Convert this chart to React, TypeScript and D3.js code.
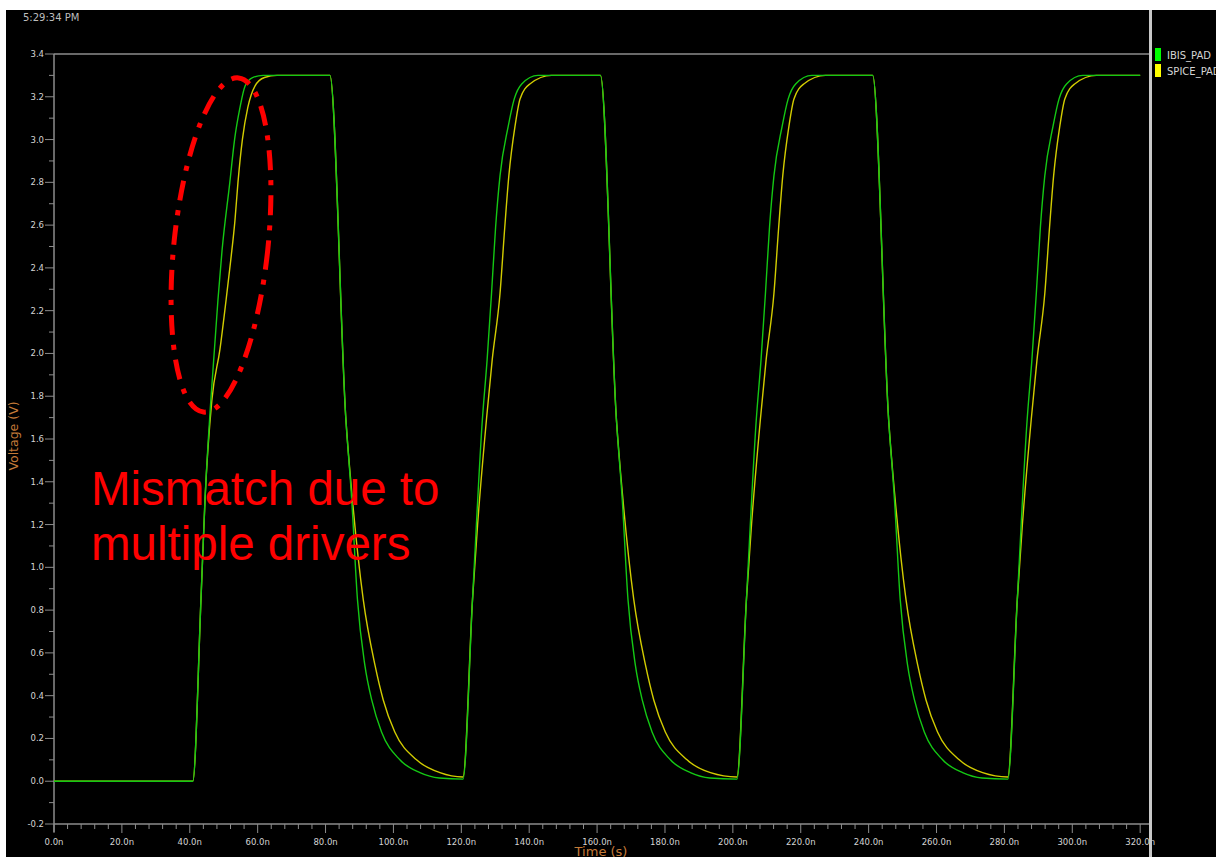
import React from 'react';
import * as d3 from 'd3';

// time (ns) / voltage (V) pairs
const ibisPad: [number, number][] = [
  [0, 0], [40.9, 0],
  [43.3, 0.85], [44.5, 1.32], [46.2, 1.78], [48.3, 2.25], [49.5, 2.48], [51.8, 2.8], [53.2, 3.0], [54.8, 3.15], [56.3, 3.25], [58.5, 3.29], [61.6, 3.3],
  [81.3, 3.3],
  [86.0, 1.69], [87.7, 1.32], [89.4, 0.85], [91.6, 0.54], [93.6, 0.38], [96.5, 0.23], [101.9, 0.1], [107.8, 0.04], [113.5, 0.015], [120.5, 0.01],
  [123.3, 0.85], [126.2, 1.69], [127.6, 1.97], [128.9, 2.28], [130.1, 2.59], [131.4, 2.83], [133.8, 3.06], [135.6, 3.19], [137.8, 3.26], [142.6, 3.3],
  [161.0, 3.3],
  [165.7, 1.69], [167.4, 1.32], [169.1, 0.85], [171.3, 0.54], [173.3, 0.38], [176.2, 0.23], [181.6, 0.1], [187.5, 0.04], [193.2, 0.015], [201.2, 0.01],
  [204.0, 0.85], [206.9, 1.69], [208.3, 1.97], [209.6, 2.28], [210.8, 2.59], [212.1, 2.83], [214.5, 3.06], [216.3, 3.19], [218.5, 3.26], [223.3, 3.3],
  [241.2, 3.3],
  [245.9, 1.69], [247.6, 1.32], [249.3, 0.85], [251.5, 0.54], [253.5, 0.38], [256.4, 0.23], [261.8, 0.1], [267.7, 0.04], [273.4, 0.015], [281.0, 0.01],
  [283.8, 0.85], [286.7, 1.69], [288.1, 1.97], [289.4, 2.28], [290.6, 2.59], [291.9, 2.83], [294.3, 3.06], [296.1, 3.19], [298.3, 3.26], [303.1, 3.3],
  [320, 3.3],
];

const spicePad: [number, number][] = [
  [0, 0], [40.9, 0],
  [43.3, 0.85], [44.5, 1.32], [46.5, 1.78], [48.9, 2.02], [50.7, 2.25], [52.1, 2.44], [53.3, 2.62], [54.2, 2.8], [55.5, 3.0], [57.1, 3.15], [59.2, 3.25], [62.0, 3.29], [65.7, 3.3],
  [81.3, 3.3],
  [86.0, 1.69], [87.9, 1.32], [91.1, 0.85], [94.6, 0.54], [97.0, 0.38], [100.4, 0.23], [106.8, 0.1], [113.7, 0.04], [120.5, 0.02],
  [123.3, 0.85], [124.8, 1.2], [127.4, 1.69], [129.1, 1.97], [131.4, 2.28], [132.8, 2.59], [134.0, 2.83], [135.8, 3.06], [137.3, 3.19], [140.2, 3.26], [146.6, 3.3],
  [161.0, 3.3],
  [165.7, 1.69], [167.6, 1.32], [170.8, 0.85], [174.3, 0.54], [176.7, 0.38], [180.1, 0.23], [186.5, 0.1], [193.4, 0.04], [201.2, 0.02],
  [204.0, 0.85], [205.5, 1.2], [208.1, 1.69], [209.8, 1.97], [212.1, 2.28], [213.5, 2.59], [214.7, 2.83], [216.5, 3.06], [218.0, 3.19], [220.9, 3.26], [227.3, 3.3],
  [241.2, 3.3],
  [245.9, 1.69], [247.8, 1.32], [251.0, 0.85], [254.5, 0.54], [256.9, 0.38], [260.3, 0.23], [266.7, 0.1], [273.6, 0.04], [281.0, 0.02],
  [283.8, 0.85], [285.3, 1.2], [287.9, 1.69], [289.6, 1.97], [291.9, 2.28], [293.3, 2.59], [294.5, 2.83], [296.3, 3.06], [297.8, 3.19], [300.7, 3.26], [307.1, 3.3],
  [320, 3.3],
];

const seriesNames = ['IBIS_PAD', 'SPICE_PAD'];
const xTicks = [0, 20, 40, 60, 80, 100, 120, 140, 160, 180, 200, 220, 240, 260, 280, 300, 320];
const yTicks = [-0.2, 0, 0.2, 0.4, 0.6, 0.8, 1.0, 1.2, 1.4, 1.6, 1.8, 2.0, 2.2, 2.4, 2.6, 2.8, 3.0, 3.2, 3.4];
const annotation = ['Mismatch due to', 'multiple drivers'];

const W = 1216;
const H = 857;
const plot = { left: 54, right: 1149, top: 54, bottom: 824 };

const axisColor = '#8c8c8c';
const labelColor = '#d4d4d4';
const titleColor = '#c47a38';
const green = '#14c814';
const yellow = '#d2cc00';
const font = 'DejaVu Sans, sans-serif';

const App = () => {
  const x = d3.scaleLinear().domain([0, 322.6]).range([plot.left, plot.right]);
  const y = d3.scaleLinear().domain([-0.2, 3.4]).range([plot.bottom, plot.top]);

  const line = d3.line<[number, number]>()
    .x(d => x(d[0]))
    .y(d => y(d[1]))
    .curve(d3.curveMonotoneX);

  const xMinor = d3.range(0, 322, 4).filter(t => t % 20 !== 0);
  const yMinor = d3.range(-0.1, 3.4, 0.2);

  return (
    <svg width={W} height={H} style={{ position: 'absolute', left: 0, top: 0, display: 'block' }}>
      <rect x={0} y={0} width={W} height={H} fill="#fff" />
      <rect x={6} y={10} width={W - 6} height={H - 10} fill="#000" />

      <text x={23} y={21} fill="#bdbdbd" fontFamily={font} fontSize={10}>5:29:34 PM</text>

      {/* frame */}
      <line x1={plot.left} x2={plot.right} y1={plot.top} y2={plot.top} stroke={axisColor} strokeWidth={1.5} />
      <line x1={plot.left} x2={plot.right} y1={plot.bottom} y2={plot.bottom} stroke={axisColor} strokeWidth={1.5} />
      <line x1={plot.left} x2={plot.left} y1={plot.top} y2={plot.bottom + 8} stroke={axisColor} strokeWidth={1.5} />

      {/* y axis */}
      {yTicks.map(v => (
        <g key={'y' + v}>
          <line x1={plot.left - 9} x2={plot.left} y1={y(v)} y2={y(v)} stroke={axisColor} strokeWidth={1} />
          <text x={plot.left - 10} y={y(v)} dy="0.35em" textAnchor="end" fill={labelColor}
            fontFamily={font} fontSize={8.5}>{v.toFixed(1)}</text>
        </g>
      ))}
      {yMinor.map(v => (
        <line key={'ym' + v} x1={plot.left - 5} x2={plot.left} y1={y(v)} y2={y(v)} stroke={axisColor} strokeWidth={1} />
      ))}

      {/* x axis */}
      {xTicks.map(t => (
        <g key={'x' + t}>
          <line x1={x(t)} x2={x(t)} y1={plot.bottom} y2={plot.bottom + 9} stroke={axisColor} strokeWidth={1} />
          <text x={x(t)} y={842} dy="0.35em" textAnchor="middle" fill={labelColor}
            fontFamily={font} fontSize={8.5}>{t.toFixed(1) + 'n'}</text>
        </g>
      ))}
      {xMinor.map(t => (
        <line key={'xm' + t} x1={x(t)} x2={x(t)} y1={plot.bottom} y2={plot.bottom + 5} stroke={axisColor} strokeWidth={1} />
      ))}

      <text transform="translate(18,436) rotate(-90)" textAnchor="middle" fill={titleColor}
        fontFamily={font} fontSize={12.5}>Voltage (V)</text>
      <text x={601} y={856} textAnchor="middle" fill={titleColor} fontFamily={font} fontSize={13}>Time (s)</text>

      {/* traces */}
      <defs>
        <clipPath id="plotClip">
          <rect x={plot.left} y={plot.top} width={plot.right - plot.left} height={plot.bottom - plot.top} />
        </clipPath>
      </defs>
      <g clipPath="url(#plotClip)" fill="none">
        <path d={line(spicePad) || ''} stroke={yellow} strokeWidth={1.4} />
        <path d={line(ibisPad) || ''} stroke={green} strokeWidth={1.4} />
      </g>

      {/* right panel */}
      <line x1={1150.5} x2={1150.5} y1={10} y2={H} stroke="#c8c8c8" strokeWidth={3} />
      {seriesNames.map((name, i) => (
        <g key={name}>
          <rect x={1155} y={48 + i * 16} width={6} height={13} fill={i === 0 ? '#00ff00' : '#ffff00'} />
          <text x={1167} y={55 + i * 16} dy="0.35em" fill={labelColor} fontFamily={font} fontSize={10}>{name}</text>
        </g>
      ))}

      {/* annotation */}
      <ellipse cx={221} cy={245} rx={47} ry={168} transform="rotate(6 221 245)" fill="none"
        stroke="#ff0000" strokeWidth={5} strokeDasharray="20 10 5 10" />
      {annotation.map((s, i) => (
        <text key={s} x={91} y={505 + i * 55} fill="#ff0000" fontFamily="Liberation Sans, Arial, sans-serif"
          fontSize={47.5}>{s}</text>
      ))}
    </svg>
  );
};

export default App;
